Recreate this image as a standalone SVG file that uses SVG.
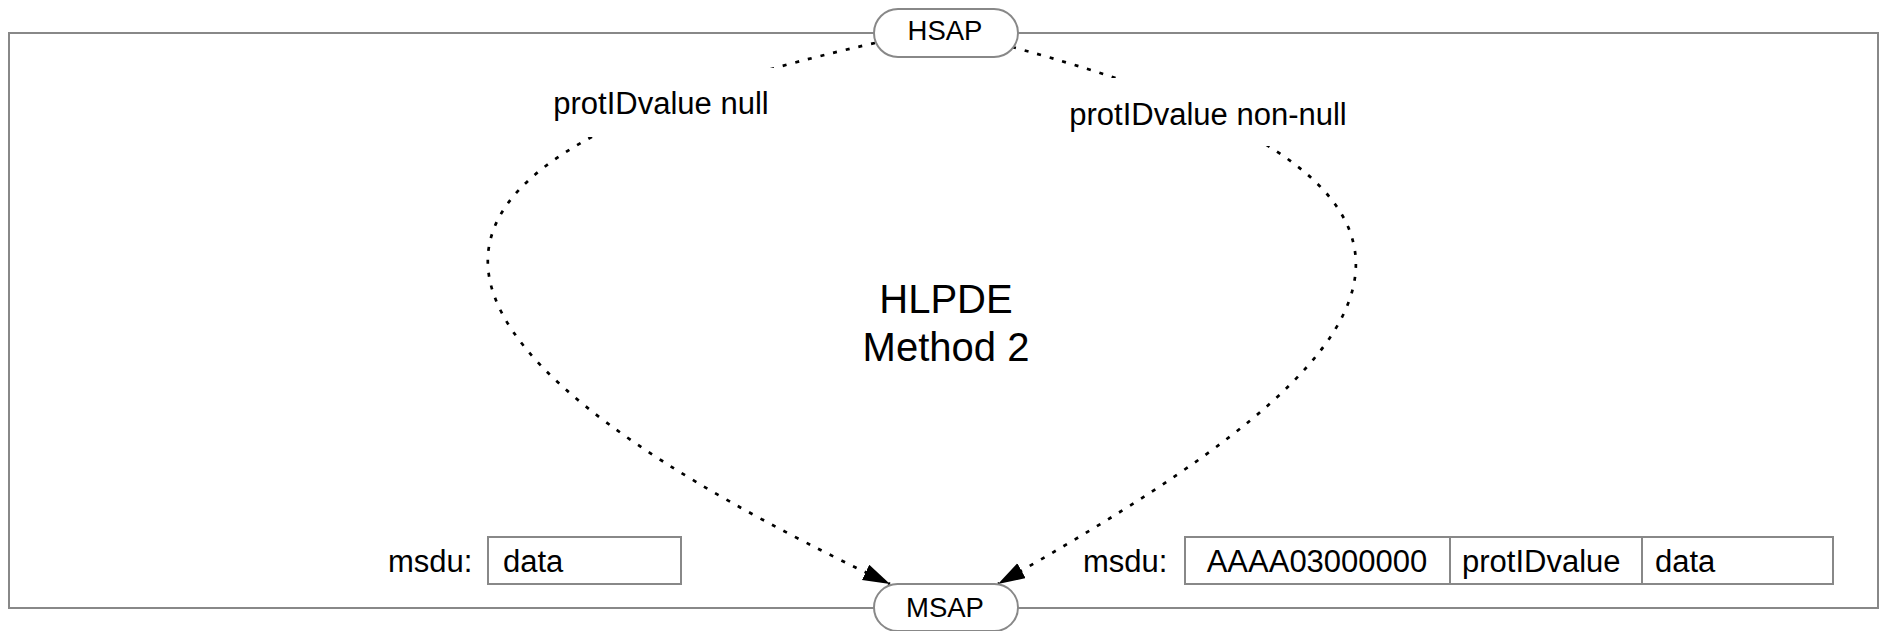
<svg xmlns="http://www.w3.org/2000/svg" width="1883" height="631" viewBox="0 0 1883 631">
  <style>
    .frame { fill: none; stroke: #888; stroke-width: 2; }
    .pill { fill: #fff; stroke: #888; stroke-width: 2; }
    .cell { fill: #fff; stroke: #888; stroke-width: 2; }
    .t { font-family: "Liberation Sans", Arial, Helvetica, sans-serif; fill: #000; }
    .pt { font-size: 27.5px; text-anchor: middle; }
    .lbl { font-size: 31px; }
    .big { font-size: 40px; text-anchor: middle; }
    .conn { fill: none; stroke: #000; stroke-width: 2.7; stroke-dasharray: 4 9; }
    .mask { fill: #fff; stroke: none; }
  </style>
  <defs>
    <marker id="arrow" markerUnits="userSpaceOnUse" markerWidth="30" markerHeight="20" refX="27" refY="8.5" orient="auto">
      <path d="M0,0 L27,8.5 L0,17 z" fill="#000"/>
    </marker>
  </defs>
  <rect width="1883" height="631" fill="#fff"/>

  <g id="frame">
    <rect class="frame" x="9" y="33" width="1869" height="575"/>
  </g>

  <g id="connectors">
    <path id="c-null" class="conn" d="M875,43 C297,173 420,361 890,584" marker-end="url(#arrow)"/>
    <path id="c-nonnull" class="conn" d="M1012,47 C1580,200 1350,385 998,584" marker-end="url(#arrow)"/>
  </g>

  <g id="label-null">
    <rect class="mask" x="545" y="68" width="235" height="69"/>
    <text class="t lbl" x="661" y="114" text-anchor="middle">protIDvalue null</text>
  </g>

  <g id="label-nonnull">
    <rect class="mask" x="1055" y="78" width="310" height="68"/>
    <text class="t lbl" x="1208" y="125" text-anchor="middle">protIDvalue non-null</text>
  </g>

  <g id="hsap">
    <rect class="pill" x="874" y="9" width="144" height="48" rx="24"/>
    <text class="t pt" x="945" y="40">HSAP</text>
  </g>

  <g id="msap">
    <rect class="pill" x="874" y="584" width="144" height="47" rx="23.5"/>
    <text class="t pt" x="945" y="617">MSAP</text>
  </g>

  <g id="hlpde">
    <text class="t big" x="946" y="313">HLPDE</text>
    <text class="t big" x="946" y="361">Method 2</text>
  </g>

  <g id="msdu-null">
    <text class="t lbl" x="388" y="572">msdu:</text>
    <rect class="cell" x="488" y="537" width="193" height="47"/>
    <text class="t lbl" x="503" y="572">data</text>
  </g>

  <g id="msdu-nonnull">
    <text class="t lbl" x="1083" y="572">msdu:</text>
    <rect class="cell" x="1185" y="537" width="265" height="47"/>
    <text class="t lbl" x="1317" y="572" text-anchor="middle">AAAA03000000</text>
    <rect class="cell" x="1450" y="537" width="192" height="47"/>
    <text class="t lbl" x="1462" y="572">protIDvalue</text>
    <rect class="cell" x="1642" y="537" width="191" height="47"/>
    <text class="t lbl" x="1655" y="572">data</text>
  </g>
</svg>
